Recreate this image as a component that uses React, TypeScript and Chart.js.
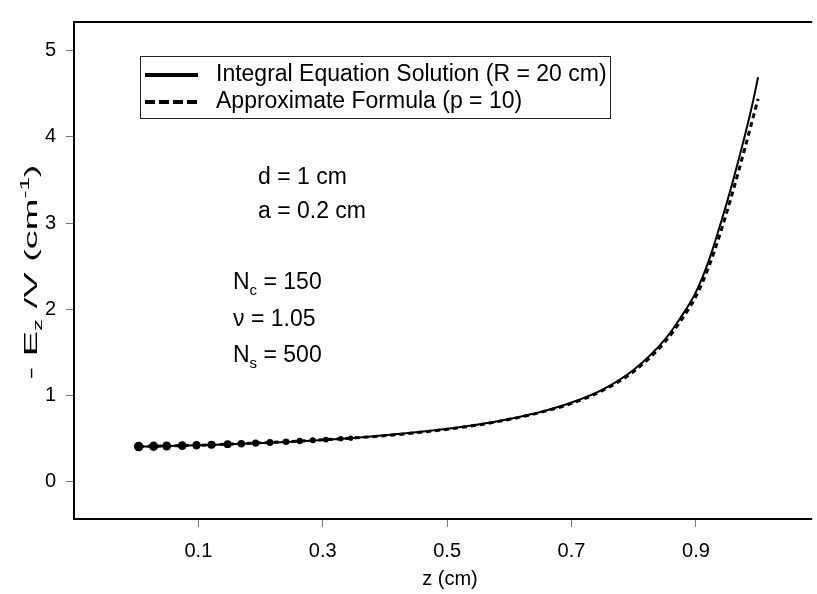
import React, { useEffect, useRef } from "react";
import { Chart, registerables } from "chart.js";

Chart.register(...registerables);

// ---- data ----
const zSolid = [0.004, 0.05, 0.1, 0.15, 0.2, 0.25, 0.3, 0.35, 0.4, 0.45, 0.5, 0.55, 0.6, 0.65, 0.7, 0.75, 0.8, 0.85, 0.875, 0.9, 0.92, 0.94, 0.96, 0.98, 0.99, 1.0];
const eSolid = [0.41, 0.415, 0.425, 0.435, 0.45, 0.465, 0.485, 0.51, 0.54, 0.575, 0.615, 0.665, 0.73, 0.81, 0.92, 1.07, 1.3, 1.65, 1.9, 2.2, 2.55, 3.0, 3.5, 4.05, 4.35, 4.69];

const zDashed = [0.004, 0.028, 0.049, 0.074, 0.097, 0.121, 0.147, 0.169, 0.192, 0.215, 0.241, 0.263, 0.284, 0.305, 0.329, 0.345, 0.4, 0.45, 0.5, 0.55, 0.6, 0.65, 0.7, 0.75, 0.8, 0.85, 0.875, 0.9, 0.92, 0.94, 0.96, 0.98, 0.99, 1.0];
const eDashed = [0.41, 0.413, 0.416, 0.42, 0.424, 0.43, 0.437, 0.443, 0.45, 0.457, 0.466, 0.474, 0.482, 0.49, 0.5, 0.507, 0.535, 0.57, 0.61, 0.66, 0.725, 0.805, 0.91, 1.06, 1.28, 1.62, 1.86, 2.15, 2.48, 2.9, 3.38, 3.9, 4.17, 4.44];
const blobCount = 16;

const xTicks = [0.1, 0.3, 0.5, 0.7, 0.9];
const yTicks = [0, 1, 2, 3, 4, 5];

const legendLabels = ["Integral Equation Solution (R = 20 cm)", "Approximate Formula (p = 10)"];

const FONT = "'Liberation Sans', Arial, Helvetica, sans-serif";

type Part = { t: string; sub?: boolean; sup?: boolean };

function drawRich(ctx: CanvasRenderingContext2D, parts: Part[], x: number, y: number, size: number, align: "left" | "center") {
  const small = Math.round(size * 0.65);
  const widths = parts.map((p) => {
    ctx.font = `${p.sub || p.sup ? small : size}px ${FONT}`;
    return ctx.measureText(p.t).width;
  });
  const total = widths.reduce((a, b) => a + b, 0);
  let cx = align === "center" ? x - total / 2 : x;
  ctx.textAlign = "left";
  ctx.textBaseline = "middle";
  parts.forEach((p, i) => {
    ctx.font = `${p.sub || p.sup ? small : size}px ${FONT}`;
    const dy = p.sub ? size * 0.35 : p.sup ? -size * 0.35 : 0;
    ctx.fillText(p.t, cx, y + dy);
    cx += widths[i];
  });
}

const overlay = {
  id: "overlay",
  afterDraw(chart: any) {
    const ctx: CanvasRenderingContext2D = chart.ctx;
    const a = chart.chartArea;
    ctx.save();
    // frame
    ctx.strokeStyle = "#000";
    ctx.lineWidth = 2;
    ctx.beginPath();
    ctx.moveTo(a.right, a.top);
    ctx.lineTo(a.left, a.top);
    ctx.lineTo(a.left, a.bottom);
    ctx.lineTo(a.right, a.bottom);
    ctx.stroke();

    ctx.fillStyle = "#000";
    // legend
    ctx.lineWidth = 1;
    ctx.strokeStyle = "#222";
    ctx.strokeRect(140.5, 56.5, 470, 62);
    ctx.lineWidth = 4;
    ctx.strokeStyle = "#000";
    ctx.beginPath();
    ctx.moveTo(145, 75);
    ctx.lineTo(198, 75);
    ctx.stroke();
    ctx.setLineDash([10, 4]);
    ctx.beginPath();
    ctx.moveTo(145, 102);
    ctx.lineTo(198, 102);
    ctx.stroke();
    ctx.setLineDash([]);
    drawRich(ctx, [{ t: legendLabels[0] }], 216, 75, 23, "left");
    drawRich(ctx, [{ t: legendLabels[1] }], 216, 102, 23, "left");

    // annotations
    drawRich(ctx, [{ t: "d = 1 cm" }], 258, 178, 23, "left");
    drawRich(ctx, [{ t: "a = 0.2 cm" }], 258, 212, 23, "left");
    drawRich(ctx, [{ t: "N" }, { t: "c", sub: true }, { t: " = 150" }], 233, 283, 23, "left");
    drawRich(ctx, [{ t: "\u03bd = 1.05" }], 233, 320, 23, "left");
    drawRich(ctx, [{ t: "N" }, { t: "s", sub: true }, { t: " = 500" }], 233, 356, 23, "left");

    // axis titles
    drawRich(ctx, [{ t: "z (cm)" }], 450, 579, 20, "center");
    ctx.translate(32, 272);
    ctx.rotate(-Math.PI / 2);
    ctx.scale(2.0, 1);
    drawRich(ctx, [{ t: "- E" }, { t: "z", sub: true }, { t: " /V (cm" }, { t: "-1", sup: true }, { t: ")" }], 0, 0, 19, "center");
    ctx.restore();
  },
};

export default function App() {
  const ref = useRef<HTMLCanvasElement | null>(null);
  useEffect(() => {
    if (!ref.current) return;
    const chart = new Chart(ref.current, {
      type: "line",
      data: {
        datasets: [
          {
            label: legendLabels[0],
            data: zSolid.map((z, i) => ({ x: z, y: eSolid[i] })),
            borderColor: "#000",
            borderWidth: 2,
            pointRadius: 0,
            cubicInterpolationMode: "monotone",
          },
          {
            label: legendLabels[1],
            data: zDashed.map((z, i) => ({ x: z, y: eDashed[i] })),
            borderColor: "#000",
            backgroundColor: "#000",
            borderWidth: 3,
            borderDash: [5, 4],
            cubicInterpolationMode: "monotone",
            pointRadius: (c: any) => (c.dataIndex < blobCount ? 4.8 - c.dataIndex * 0.15 : 0),
            pointBorderWidth: 0,
          },
        ],
      },
      options: {
        animation: false,
        responsive: false,
        layout: { padding: { top: 18, right: 0, left: 0, bottom: 0 } },
        plugins: { legend: { display: false }, tooltip: { enabled: false } },
        scales: {
          x: {
            type: "linear",
            min: -0.1,
            max: 1.087,
            afterFit: (s: any) => {
              s.height = 75;
            },
            afterBuildTicks: (s: any) => {
              s.ticks = xTicks.map((v) => ({ value: v }));
            },
            border: { display: false },
            grid: { display: true, drawOnChartArea: false, drawTicks: true, tickLength: 8, color: "#777", lineWidth: 1 },
            ticks: {
              color: "#000",
              font: { family: FONT, size: 20 },
              padding: 12,
              maxRotation: 0,
              autoSkip: false,
              callback: (v: any) => Number(v).toFixed(1),
            },
          },
          y: {
            type: "linear",
            min: -0.43,
            max: 5.33,
            afterFit: (s: any) => {
              s.width = 74;
            },
            afterBuildTicks: (s: any) => {
              s.ticks = yTicks.map((v) => ({ value: v }));
            },
            border: { display: false },
            grid: { display: true, drawOnChartArea: false, drawTicks: true, tickLength: 8, color: "#777", lineWidth: 1 },
            ticks: {
              color: "#000",
              font: { family: FONT, size: 20 },
              padding: 10,
              autoSkip: false,
              callback: (v: any) => String(v),
            },
          },
        },
      },
      plugins: [overlay],
    });
    return () => chart.destroy();
  }, []);
  return (
    <div style={{ position: "fixed", left: 0, top: 0, width: 817, height: 594, background: "#fff" }}>
      <canvas ref={ref} width={817} height={594} />
    </div>
  );
}
